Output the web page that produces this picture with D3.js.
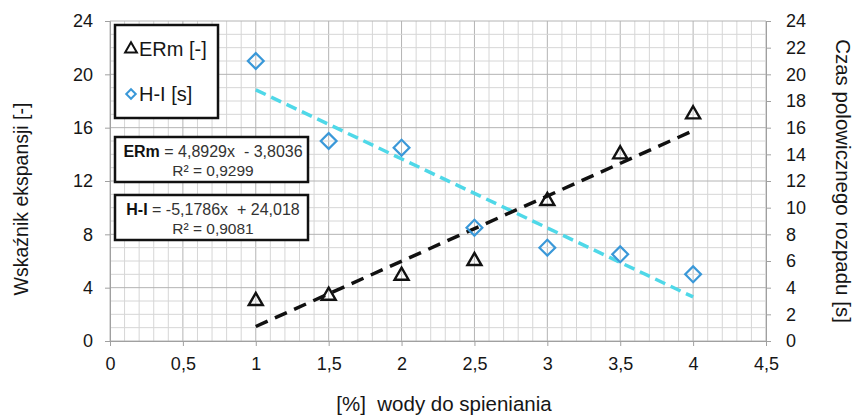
<!DOCTYPE html>
<html>
<head>
<meta charset="utf-8">
<script src="https://cdn.jsdelivr.net/npm/d3@7"></script>
<style>
  html, body { margin: 0; padding: 0; background: #fff; }
  svg { display: block; font-family: "Liberation Sans", Arial, sans-serif; }
</style>
</head>
<body>
<svg id="chart" width="858" height="418"></svg>
<script>
// Water content used for foaming [%]
const waterPct = [1, 1.5, 2, 2.5, 3, 3.5, 4];
// Expansion index ERm [-]
const erm = [3, 3.4, 4.9, 6, 10.5, 14, 17];
// Half-life H-I [s]
const halfLife = [21, 15, 14.5, 8.5, 7, 6.5, 5];
// Linear trend coefficients (slope, intercept) and R²
const ermTrend = { a: 4.8929, b: -3.8036, r2: "0,9299" };
const hlTrend = { a: -5.1786, b: 24.018, r2: "0,9081" };
// Tick values
const xTicks = [0, 0.5, 1, 1.5, 2, 2.5, 3, 3.5, 4, 4.5];
const yLeftTicks = [0, 4, 8, 12, 16, 20, 24];
const yRightTicks = [0, 2, 4, 6, 8, 10, 12, 14, 16, 18, 20, 22, 24];

const svg = d3.select("#chart");
const L = 110, R = 766, T = 21, B = 341;
const x = d3.scaleLinear().domain([0, 4.5]).range([L, R]);
const yL = d3.scaleLinear().domain([0, 24]).range([B, T]);
const yR = d3.scaleLinear().domain([0, 24]).range([B, T]);
const fmt = v => String(v).replace(".", ",");
const ink = "#161616";

// Grid: minor every 0.1 on x and 1 on y, major on the labelled ticks
const grid = svg.append("g");
d3.range(0, 45.5).map(i => i / 10).forEach(v => {
  const major = Math.abs(v * 2 - Math.round(v * 2)) < 1e-6;
  grid.append("line").attr("x1", x(v)).attr("x2", x(v)).attr("y1", T).attr("y2", B)
    .attr("stroke", major ? "#b4b4b4" : "#d6d6d6").attr("stroke-width", 1);
});
d3.range(0, 25).forEach(v => {
  const major = v % 4 === 0;
  grid.append("line").attr("x1", L).attr("x2", R).attr("y1", yL(v)).attr("y2", yL(v))
    .attr("stroke", major ? "#b4b4b4" : "#d6d6d6").attr("stroke-width", 1);
});

// Axes
const xAxis = d3.axisBottom(x).tickValues(xTicks).tickFormat(fmt).tickSize(5).tickPadding(11);
const gx = svg.append("g").attr("transform", `translate(0,${B})`).call(xAxis);
const yAxisL = d3.axisLeft(yL).tickValues(yLeftTicks).tickSize(5).tickPadding(12);
const gyl = svg.append("g").attr("transform", `translate(${L},0)`).call(yAxisL);
const yAxisR = d3.axisRight(yR).tickValues(yRightTicks).tickSize(5).tickPadding(15);
const gyr = svg.append("g").attr("transform", `translate(${R},0)`).call(yAxisR);
[gx, gyl, gyr].forEach(g => {
  g.select(".domain").attr("stroke", "#a0a0a0");
  g.selectAll(".tick line").attr("stroke", "#a0a0a0");
  g.selectAll(".tick text").attr("fill", ink)
    .style("font-size", "18px").style("font-family", "'Liberation Sans', Arial, sans-serif");
});

// Axis titles
svg.append("text").attr("transform", `translate(28,${(T + B) / 2 + 18}) rotate(-90)`)
  .attr("text-anchor", "middle").style("font-size", "19.5px").attr("fill", ink)
  .text("Wskaźnik ekspansji [-]");
svg.append("text").attr("transform", `translate(836,${(T + B) / 2}) rotate(90)`)
  .attr("text-anchor", "middle").style("font-size", "20.5px").attr("fill", ink)
  .text("Czas polowicznego rozpadu [s]");
svg.append("text").attr("x", 444).attr("y", 411)
  .attr("text-anchor", "middle").style("font-size", "20.5px").attr("fill", ink)
  .attr("xml:space", "preserve").text("[%]  wody do spieniania");

// Trend lines over the measured range
const xr = [d3.min(waterPct), d3.max(waterPct)];
svg.append("line")
  .attr("x1", x(xr[0])).attr("y1", yR(hlTrend.a * xr[0] + hlTrend.b))
  .attr("x2", x(xr[1])).attr("y2", yR(hlTrend.a * xr[1] + hlTrend.b))
  .attr("stroke", "#4fd8e8").attr("stroke-width", 3.5).attr("stroke-dasharray", "11,6");
svg.append("line")
  .attr("x1", x(xr[0])).attr("y1", yL(ermTrend.a * xr[0] + ermTrend.b))
  .attr("x2", x(xr[1])).attr("y2", yL(ermTrend.a * xr[1] + ermTrend.b))
  .attr("stroke", "#111").attr("stroke-width", 3.5).attr("stroke-dasharray", "13,8");

// Markers
const tri = d3.symbol().type(d3.symbolTriangle).size(85);
const dia = d3.symbol().type(d3.symbolSquare).size(125);
svg.append("g").selectAll("path").data(waterPct).join("path")
  .attr("transform", (d, i) => `translate(${x(d)},${yR(halfLife[i])}) rotate(45)`)
  .attr("d", dia).attr("fill", "none").attr("stroke", "#3a98d8").attr("stroke-width", 2.2);
svg.append("g").selectAll("path").data(waterPct).join("path")
  .attr("transform", (d, i) => `translate(${x(d)},${yL(erm[i])})`)
  .attr("d", tri).attr("fill", "none").attr("stroke", "#111").attr("stroke-width", 2.4);

// Legend
const lg = svg.append("g");
lg.append("rect").attr("x", 115).attr("y", 25).attr("width", 103).attr("height", 93)
  .attr("fill", "#fff").attr("stroke", "#111").attr("stroke-width", 2.5);
lg.append("path").attr("transform", "translate(131,49)").attr("d", d3.symbol().type(d3.symbolTriangle).size(60))
  .attr("fill", "none").attr("stroke", "#111").attr("stroke-width", 2);
lg.append("text").attr("x", 139).attr("y", 56).style("font-size", "20px").attr("fill", ink).text("ERm [-]");
lg.append("path").attr("transform", "translate(131,94) rotate(45)").attr("d", d3.symbol().type(d3.symbolSquare).size(45))
  .attr("fill", "none").attr("stroke", "#3a98d8").attr("stroke-width", 2);
lg.append("text").attr("x", 139).attr("y", 101).style("font-size", "20px").attr("fill", ink).text("H-I [s]");

// Trend equation boxes
function eqBox(y0, name, tr) {
  const g = svg.append("g");
  g.append("rect").attr("x", 115).attr("y", y0).attr("width", 193).attr("height", 45)
    .attr("fill", "#fff").attr("stroke", "#111").attr("stroke-width", 2.5);
  const sign = tr.b < 0 ? "- " : "+ ";
  const t = g.append("text").attr("x", 213).attr("y", y0 + 20).attr("text-anchor", "middle")
    .style("font-size", "16px").attr("fill", "#333").attr("xml:space", "preserve");
  t.append("tspan").style("font-weight", "bold").attr("fill", "#111").text(name);
  t.append("tspan").text(` = ${fmt(tr.a)}x  ${sign}${fmt(Math.abs(tr.b))}`);
  g.append("text").attr("x", 213).attr("y", y0 + 39).attr("text-anchor", "middle")
    .style("font-size", "15.5px").attr("fill", "#333").text(`R² = ${tr.r2}`);
}
eqBox(137, "ERm", ermTrend);
eqBox(195, "H-I", hlTrend);
</script>
</body>
</html>
